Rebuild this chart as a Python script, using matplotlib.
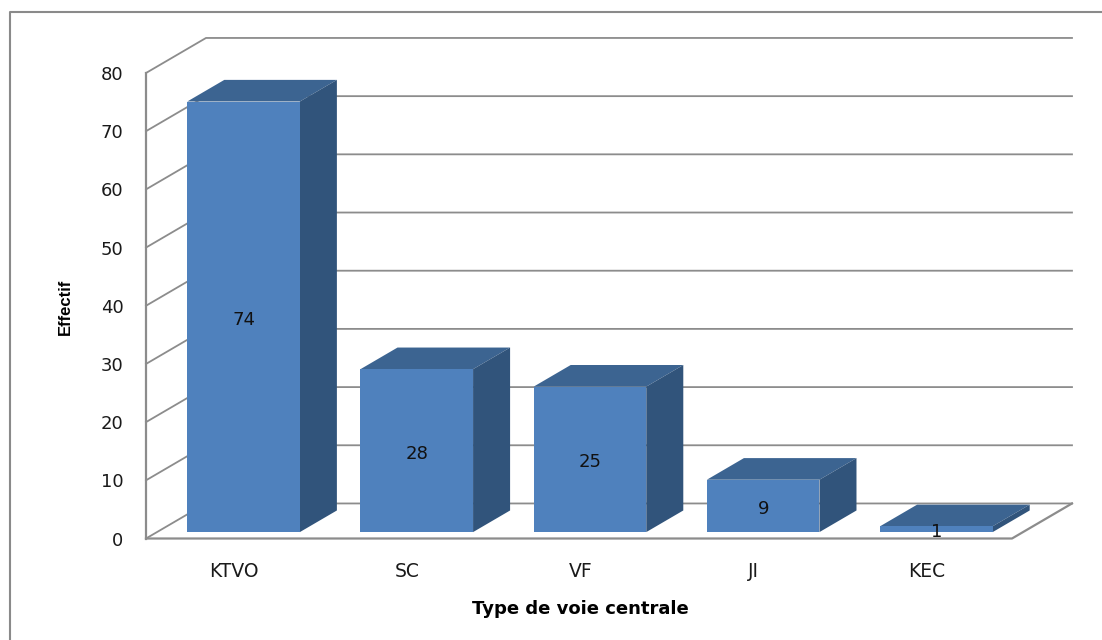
import matplotlib
matplotlib.use("Agg")
import matplotlib.pyplot as plt
from matplotlib.lines import Line2D
from matplotlib.patches import Polygon

categories = ["KTVO", "SC", "VF", "JI", "KEC"]
effectif = [74, 28, 25, 9, 1]
y_ticks = [0, 10, 20, 30, 40, 50, 60, 70, 80]

W, H = 1102, 640
GRID = "#8c8c8c"
FRONT = "#4f81bd"
TOP = "#3c6491"
SIDE = "#31547b"

# one x unit = one category slot, one y unit = one count
SLOT_PX = 866 / 5
UNIT_PX = 465 / 80
# how far the back wall sits behind the front plane, in data units
DEPTH_X = 60 / SLOT_PX
DEPTH_Y = 35 / UNIT_PX
BAR_W = 0.65
BAR_D0, BAR_D1 = 0.183, 0.80


def pt(x, y, d=0.0):
    return (x + d * DEPTH_X, y + d * DEPTH_Y)


fig = plt.figure(figsize=(W / 100, H / 100), dpi=100)
ax = fig.add_axes([146 / W, 1 - 538.5 / H, 866 / W, 465.5 / H])
ax.set_xlim(0, 5)
ax.set_ylim(0, 80)
ax.axis("off")

# outer chart frame, only top and left edges stay inside the image
fig.add_artist(Line2D([9.5 / W, 9.5 / W, 1], [0, 1 - 12 / H, 1 - 12 / H], color="#8a8a8a",
                      lw=1.5, transform=fig.transFigure))

# walls and gridlines
for v in y_ticks:
    xs, ys = zip(pt(0, v), pt(0, v, 1), pt(5, v, 1))
    ax.plot(xs, ys, color=GRID, lw=1.3, clip_on=False, zorder=1)
    ax.text(-0.13, v - 0.35, str(v), ha="right", va="center", fontsize=13, color="#1a1a1a",
            clip_on=False)

xs, ys = zip(pt(0, 0), pt(5, 0), pt(5, 0, 1))
ax.plot(xs, ys, color=GRID, lw=1.6, clip_on=False, zorder=1)
ax.plot([0, 0], [0, 80], color=GRID, lw=1.6, clip_on=False, zorder=1)

# bars
for i, (name, val) in enumerate(zip(categories, effectif)):
    x0 = i + 0.5 - BAR_W / 2
    x1 = x0 + BAR_W
    top = [pt(x0, val, BAR_D0), pt(x1, val, BAR_D0), pt(x1, val, BAR_D1), pt(x0, val, BAR_D1)]
    side = [pt(x1, 0, BAR_D0), pt(x1, val, BAR_D0), pt(x1, val, BAR_D1), pt(x1, 0, BAR_D1)]
    front = [pt(x0, 0, BAR_D0), pt(x1, 0, BAR_D0), pt(x1, val, BAR_D0), pt(x0, val, BAR_D0)]
    ax.add_patch(Polygon(top, color=TOP, lw=0, clip_on=False, zorder=3))
    ax.add_patch(Polygon(side, color=SIDE, lw=0, clip_on=False, zorder=3))
    ax.add_patch(Polygon(front, color=FRONT, lw=0, clip_on=False, zorder=3))

    cx, cy = pt(i + 0.5, val / 2, BAR_D0)
    ax.text(cx, cy - 0.5, str(val), ha="center", va="center", fontsize=13, color="#111111",
            clip_on=False, zorder=4)
    ax.text(i + 0.5 + 0.01, -5.6, name, ha="center", va="center", fontsize=13.5,
            color="#1a1a1a", clip_on=False)

fig.text(580 / W, 1 - 609 / H, "Type de voie centrale", ha="center", va="center",
         fontsize=13, fontweight="bold")
fig.text(65 / W, 1 - 306.5 / H, "Effectif", ha="center", va="center", rotation=90,
         fontsize=12, fontweight="bold", family="Liberation Sans")

fig.savefig("out.png", dpi=100)
